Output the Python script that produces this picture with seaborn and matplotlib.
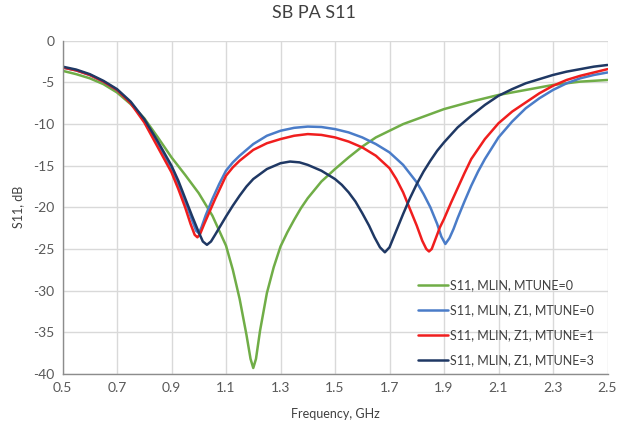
import pandas as pd
import numpy as np
import matplotlib
matplotlib.use("Agg")
import matplotlib.pyplot as plt
import seaborn as sns

# ------------------------------
# Dados (S11 em dB)
# ------------------------------
freq_g = [0.50, 0.55, 0.60, 0.65, 0.70, 0.75, 0.80, 0.85, 0.90, 0.95, 1.00, 1.05,
          1.10, 1.125, 1.15, 1.175, 1.19, 1.20, 1.21, 1.225, 1.25, 1.275, 1.30, 1.325,
          1.35, 1.375, 1.40, 1.45, 1.50, 1.55, 1.60, 1.65, 1.70, 1.75, 1.80, 1.85,
          1.90, 2.00, 2.10, 2.20, 2.30, 2.40, 2.50]
s11_g = [-3.6, -4.0, -4.5, -5.2, -6.2, -7.6, -9.3, -11.6, -14.0, -16.1, -18.3, -21.0,
         -24.6, -27.5, -31.0, -35.3, -38.2, -39.3, -38.2, -34.8, -30.3, -27.2, -24.7, -23.0,
         -21.5, -20.1, -18.9, -16.9, -15.4, -14.0, -12.7, -11.6, -10.8, -10.0, -9.4, -8.8,
         -8.2, -7.3, -6.5, -5.9, -5.3, -4.9, -4.7]

freq_b = [0.50, 0.55, 0.60, 0.65, 0.70, 0.75, 0.80, 0.85, 0.90, 0.925, 0.95, 0.975,
          0.99, 1.00, 1.01, 1.025, 1.05, 1.075, 1.10, 1.125, 1.15, 1.20, 1.25, 1.30,
          1.35, 1.40, 1.45, 1.50, 1.55, 1.60, 1.65, 1.70, 1.75, 1.80, 1.825, 1.85,
          1.875, 1.89, 1.905, 1.92, 1.935, 1.95, 1.975, 2.00, 2.025, 2.05, 2.10, 2.15,
          2.20, 2.25, 2.30, 2.35, 2.40, 2.45, 2.50]
s11_b = [-3.2, -3.55, -4.1, -4.9, -5.9, -7.4, -9.6, -12.5, -15.5, -17.3, -19.3, -21.5,
         -22.8, -23.1, -22.4, -21.0, -19.0, -17.2, -15.6, -14.6, -13.8, -12.4, -11.4, -10.8,
         -10.45, -10.3, -10.35, -10.6, -11.0, -11.6, -12.4, -13.4, -14.9, -17.0, -18.4, -20.0,
         -22.0, -23.5, -24.4, -23.7, -22.6, -21.3, -19.3, -17.4, -15.7, -14.2, -11.6, -9.7,
         -8.1, -6.9, -5.9, -5.1, -4.5, -4.1, -3.8]

freq_r = [0.50, 0.55, 0.60, 0.65, 0.70, 0.75, 0.80, 0.85, 0.90, 0.925, 0.95, 0.97,
          0.985, 0.995, 1.005, 1.02, 1.04, 1.06, 1.08, 1.10, 1.125, 1.15, 1.20, 1.25,
          1.30, 1.35, 1.40, 1.45, 1.50, 1.55, 1.60, 1.65, 1.70, 1.725, 1.75, 1.775,
          1.80, 1.82, 1.835, 1.845, 1.855, 1.87, 1.885, 1.90, 1.925, 1.95, 1.975, 2.00,
          2.05, 2.10, 2.15, 2.20, 2.25, 2.30, 2.35, 2.40, 2.45, 2.50]
s11_r = [-3.2, -3.55, -4.1, -4.9, -5.9, -7.5, -9.8, -12.8, -15.8, -17.8, -20.0, -22.0,
         -23.3, -23.6, -23.2, -22.0, -20.5, -19.0, -17.6, -16.2, -15.2, -14.4, -13.1, -12.3,
         -11.8, -11.4, -11.2, -11.3, -11.6, -12.1, -12.8, -13.8, -15.3, -16.6, -18.2, -20.2,
         -22.2, -24.0, -25.0, -25.3, -25.0, -23.7, -22.4, -21.4, -19.5, -17.7, -15.9, -14.2,
         -11.8, -9.9, -8.5, -7.4, -6.3, -5.4, -4.7, -4.2, -3.8, -3.4]

freq_n = [0.50, 0.55, 0.60, 0.65, 0.70, 0.75, 0.80, 0.85, 0.90, 0.925, 0.95, 0.975,
          1.00, 1.015, 1.03, 1.045, 1.06, 1.08, 1.10, 1.125, 1.15, 1.175, 1.20, 1.25,
          1.30, 1.335, 1.37, 1.40, 1.45, 1.50, 1.525, 1.55, 1.575, 1.60, 1.625, 1.645,
          1.665, 1.683, 1.70, 1.715, 1.73, 1.75, 1.775, 1.80, 1.825, 1.85, 1.875, 1.90,
          1.95, 2.00, 2.05, 2.10, 2.15, 2.20, 2.25, 2.30, 2.35, 2.40, 2.45, 2.50]
s11_n = [-3.1, -3.45, -4.0, -4.8, -5.8, -7.3, -9.4, -12.1, -15.0, -16.8, -18.9, -21.0,
         -23.0, -24.1, -24.5, -24.1, -23.3, -22.2, -21.1, -19.8, -18.6, -17.5, -16.6, -15.4,
         -14.7, -14.5, -14.6, -14.9, -15.6, -16.6, -17.3, -18.2, -19.3, -20.7, -22.2, -23.6,
         -24.8, -25.4, -24.8, -23.6, -22.4, -20.8, -18.9, -17.2, -15.7, -14.4, -13.2, -12.2,
         -10.4, -9.0, -7.7, -6.6, -5.8, -5.1, -4.6, -4.1, -3.7, -3.4, -3.1, -2.9]

series = ['S11, MLIN, MTUNE=0', 'S11, MLIN, Z1, MTUNE=0',
          'S11, MLIN, Z1, MTUNE=1', 'S11, MLIN, Z1, MTUNE=3']
cores = ['#70AD47', '#4A7CC8', '#F01E1E', '#1F3864']

x_ticks = [0.5, 0.7, 0.9, 1.1, 1.3, 1.5, 1.7, 1.9, 2.1, 2.3, 2.5]
y_ticks = [0, -5, -10, -15, -20, -25, -30, -35, -40]

# ------------------------------
# Monta DataFrame longo
# ------------------------------
partes = []
for nome, f, s in zip(series, [freq_g, freq_b, freq_r, freq_n], [s11_g, s11_b, s11_r, s11_n]):
    partes.append(pd.DataFrame({'freq': f, 's11': s, 'serie': nome}))
df = pd.concat(partes, ignore_index=True)

# ------------------------------
# Gráfico
# ------------------------------
sns.set_style('white')
plt.rcParams['font.family'] = ['Lato', 'DejaVu Sans']
plt.rcParams['axes.unicode_minus'] = False

fig = plt.figure(figsize=(6.27, 4.21), dpi=100)
ax = fig.add_axes([0.0997, 0.112, 0.8692, 0.791])

sns.lineplot(data=df, x='freq', y='s11', hue='serie', hue_order=series,
             palette=dict(zip(series, cores)), sort=False, estimator=None,
             linewidth=1.8, ax=ax)

ax.set_xlim(0.5, 2.5)
ax.set_ylim(-40, 0)
ax.set_xticks(x_ticks)
ax.set_xticklabels([f'{v:.1f}' for v in x_ticks])
ax.set_yticks(y_ticks)
ax.set_yticklabels([str(v) for v in y_ticks])
ax.grid(True, color='#D9D9D9', linewidth=1.0)
ax.set_axisbelow(True)
for lado in ['top', 'right']:
    ax.spines[lado].set_visible(False)
for lado in ['left', 'bottom']:
    ax.spines[lado].set_color('#8C8C8C')
    ax.spines[lado].set_linewidth(1.0)
ax.tick_params(axis='both', length=0, labelsize=10, colors='#595959', pad=6)

ax.set_xlabel('Frequency, GHz', fontsize=9, color='#404040', labelpad=10)
ax.set_ylabel('S11, dB', fontsize=9, color='#404040', labelpad=6)
fig.suptitle('SB PA S11', x=0.5, y=0.987, fontsize=13, color='#404040')

ax.legend(loc='lower right', bbox_to_anchor=(0.995, -0.012), frameon=False,
          fontsize=9, handlelength=2.4, handletextpad=0.1, labelspacing=1.05,
          labelcolor='#404040')

fig.savefig('out.png', dpi=100)
